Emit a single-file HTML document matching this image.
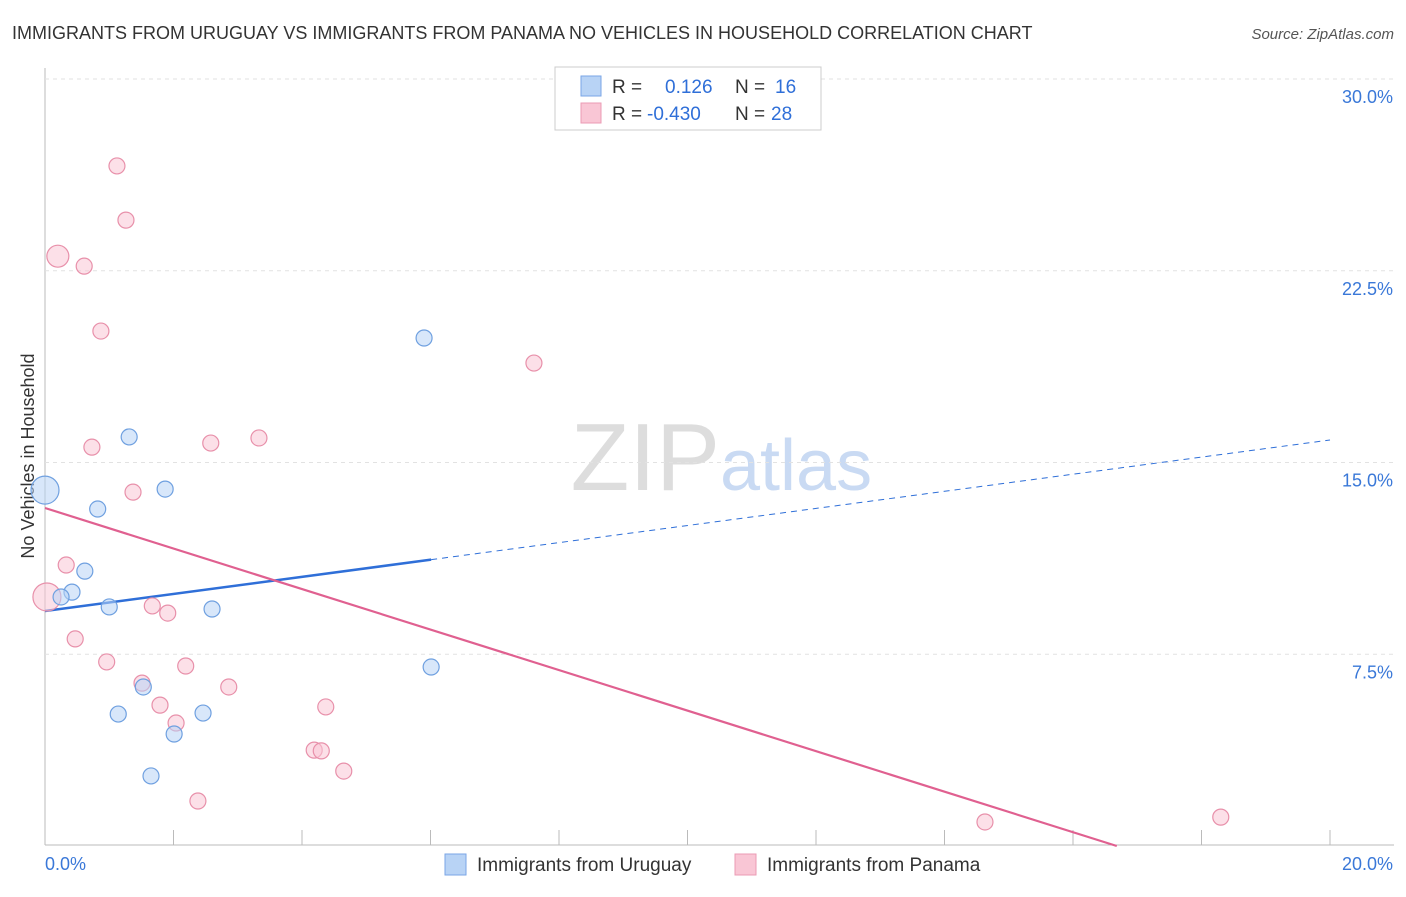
<!DOCTYPE html>
<html><head><meta charset="utf-8"><style>
body{margin:0;background:#fff;font-family:"Liberation Sans",sans-serif;}
svg text{font-family:"Liberation Sans",sans-serif;}
</style></head><body>
<svg width="1406" height="892" id="chart">
<text x="12" y="39" font-size="18" fill="#333">IMMIGRANTS FROM URUGUAY VS IMMIGRANTS FROM PANAMA NO VEHICLES IN HOUSEHOLD CORRELATION CHART</text>
<text x="1394" y="39" font-size="15" fill="#555" font-style="italic" text-anchor="end">Source: ZipAtlas.com</text>
<text x="720" y="490" font-size="96" fill="#ddd" text-anchor="end" font-family="Liberation Serif">ZIP</text>
<text x="720" y="490" font-size="72" fill="#c9daf3">atlas</text>
<text transform="translate(34,456) rotate(-90)" font-size="18" fill="#333" text-anchor="middle">No Vehicles in Household</text>
<g id="grid"></g><g id="lines"></g><g id="pts"></g>
<g>
<rect x="555" y="67" width="266" height="63" fill="#fff" stroke="#ccc"/>
<rect x="581" y="76" width="20" height="20" fill="#b8d3f5" stroke="#7aa6e6"/>
<text x="612" y="93" font-size="19" fill="#333">R =</text><text x="665" y="93" font-size="19" fill="#2f6fd8">0.126</text>
<text x="735" y="93" font-size="19" fill="#333">N =</text><text x="775" y="93" font-size="19" fill="#2f6fd8">16</text>
<rect x="581" y="103" width="20" height="20" fill="#f9c6d5" stroke="#eb9bb4"/>
<text x="612" y="120" font-size="19" fill="#333">R =</text><text x="647" y="120" font-size="19" fill="#2f6fd8">-0.430</text>
<text x="735" y="120" font-size="19" fill="#333">N =</text><text x="771" y="120" font-size="19" fill="#2f6fd8">28</text>
</g>
<g>
<rect x="445" y="854" width="21" height="21" fill="#b8d3f5" stroke="#7aa6e6"/>
<text x="477" y="871" font-size="19" fill="#333">Immigrants from Uruguay</text>
<rect x="735" y="854" width="21" height="21" fill="#f9c6d5" stroke="#eb9bb4"/>
<text x="767" y="871" font-size="19" fill="#333">Immigrants from Panama</text>
</g>
</svg>
<script>
const yTicks=[7.5,15,22.5,30];
const yTickLabels=["7.5%","15.0%","22.5%","30.0%"];
const uruguayX=[0,1.31,1.87,0.82,0.62,0.42,0.25,1.0,2.6,1.53,1.14,2.46,2.01,1.65,5.9,6.01];
const uruguayY=[13.92,16.0,13.96,13.18,10.75,9.93,9.74,9.35,9.27,6.22,5.16,5.2,4.38,2.74,19.87,7.0];
const uruguayR=[14,8,8,8,8,8,8,8,8,8,8,8,8,8,8,8];
const panamaX=[1.12,1.26,0.2,0.61,0.87,7.61,0.73,2.58,3.33,1.37,0.33,0.03,1.67,1.91,0.47,0.96,1.51,2.19,2.86,1.79,4.37,2.04,4.19,4.3,4.65,2.38,14.63,18.3];
const panamaY=[26.6,24.48,23.07,22.68,20.14,18.89,15.6,15.76,15.96,13.84,10.99,9.74,9.39,9.11,8.1,7.2,6.37,7.04,6.22,5.51,5.44,4.81,3.75,3.72,2.93,1.76,0.94,1.13];
const panamaR=[8,8,11,8,8,8,8,8,8,8,8,14,8,8,8,8,8,8,8,8,8,8,8,8,8,8,8,8];
const uruguayTrend=[9.19,15.88];
const uruguayTrendSolidEnd=6.01;
const panamaTrend=[13.22,-2.63];
const X=v=>45+v/20*1285, Y=v=>846-v*767/30;
const NS="http://www.w3.org/2000/svg";
function mk(t,a,p){const e=document.createElementNS(NS,t);for(const k in a)e.setAttribute(k,a[k]);document.getElementById(p).appendChild(e);return e;}
let e;
e=mk('line',{x1:45,y1:68,x2:45,y2:845,stroke:'#bbb'},'grid');


e=mk('line',{x1:45,y1:845,x2:1394,y2:845,stroke:'#bbb'},'grid');


for(let i=1;i<=10;i++){e=mk('line',{x1:X(i*2),y1:830,x2:X(i*2),y2:845,stroke:'#bbb'},'grid');

}
yTicks.forEach((t,i)=>{e=mk('line',{x1:45,y1:Y(t),x2:1394,y2:Y(t),stroke:'#e2e2e2','stroke-dasharray':'4,4'},'grid');


e=mk('text',{x:1393,y:Y(t)+24,'font-size':18,fill:'#3a78d8','text-anchor':'end'},'grid');e.textContent=yTickLabels[i];

});
e=mk('text',{x:45,y:870,'font-size':18,fill:'#3a78d8'},'grid');e.textContent='0.0%';


e=mk('text',{x:1393,y:870,'font-size':18,fill:'#3a78d8','text-anchor':'end'},'grid');e.textContent='20.0%';


function pts(xs,ys,rs,f,s,n){xs.forEach((x,i)=>{e=mk('circle',{cx:X(x),cy:Y(ys[i]),r:rs[i],fill:f,'fill-opacity':0.55,stroke:s,'stroke-width':1.2},'pts');

});}
pts(panamaX,panamaY,panamaR,'#f9c6d5','#e890aa','panama-point');
pts(uruguayX,uruguayY,uruguayR,'#b8d3f5','#6fa0e0','uruguay-point');
const bl=x=>uruguayTrend[0]+(uruguayTrend[1]-uruguayTrend[0])*x/20;
e=mk('line',{x1:X(0),y1:Y(bl(0)),x2:X(uruguayTrendSolidEnd),y2:Y(bl(uruguayTrendSolidEnd)),stroke:'#2f6fd8','stroke-width':2.5},'lines');


e=mk('line',{x1:X(uruguayTrendSolidEnd),y1:Y(bl(uruguayTrendSolidEnd)),x2:X(20),y2:Y(bl(20)),stroke:'#2f6fd8','stroke-width':1,'stroke-dasharray':'6,5'},'lines');


const pl=x=>panamaTrend[0]+(panamaTrend[1]-panamaTrend[0])*x/20;
const x0=-panamaTrend[0]/((panamaTrend[1]-panamaTrend[0])/20);
const xe=Math.min(20,x0);
e=mk('line',{x1:X(0),y1:Y(pl(0)),x2:X(xe),y2:Y(pl(xe)),stroke:'#e06090','stroke-width':2.2},'lines');


</script>
</body></html>
